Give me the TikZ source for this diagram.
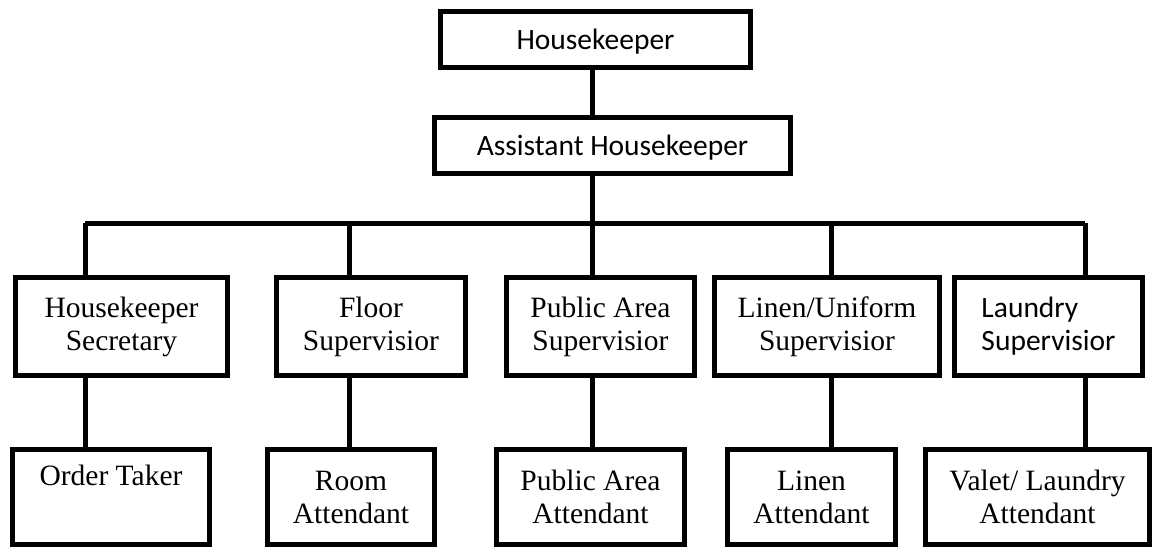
\documentclass[tikz,border=0pt]{standalone}
\usepackage{fontspec}
\setmainfont{Liberation Serif}
\newfontfamily\calibri{Carlito}
\usepackage{tikz}
\usetikzlibrary{positioning}

\begin{document}
\begin{tikzpicture}[x=1pt, y=-1pt]
	\tikzstyle{post} = [rectangle, draw=black, line width=5pt, inner sep=2pt,
	align=center, font=\fontsize{29.5}{33}\selectfont]
	\tikzstyle{head} = [post, minimum height=56pt, text depth=0pt,
	font=\calibri\fontsize{29.5}{33}\selectfont]
	\tikzstyle{sup} = [post, minimum height=98pt]
	\tikzstyle{att} = [post, minimum height=95pt]
	\tikzstyle{link} = [line width=5pt]
	\useasboundingbox (0,0) rectangle (1156,550);
	\node (housekeeper) [head, minimum width=310pt] at (595.5,39.5) {Housekeeper};
	\node (assistant) [head, minimum width=356pt] at (612.5,145.5) {Assistant Housekeeper};
	\node (secretary) [sup, minimum width=212pt] at (121.5,326.5) {Housekeeper\\Secretary};
	\node (floorSup) [sup, minimum width=189pt] at (371,326.5) {Floor\\Supervisior};
	\node (publicSup) [sup, minimum width=188pt] at (600.5,326.5) {Public Area\\Supervisior};
	\node (linenSup) [sup, minimum width=225pt] at (827,326.5) {Linen/Uniform\\Supervisior};
	\node (laundrySup) [sup, minimum width=188pt, align=left,
	font=\calibri\fontsize{29.5}{33}\selectfont] at (1048.5,326.5) {Laundry\\Supervisior};
	\node (orderTaker) [att, minimum width=197pt] at (111,497) {Order Taker\\\strut};
	\node (roomAtt) [att, minimum width=167pt] at (351,497) {Room\\Attendant};
	\node (publicAtt) [att, minimum width=188pt] at (590.5,497) {Public Area\\Attendant};
	\node (linenAtt) [att, minimum width=168pt] at (811.5,497) {Linen\\Attendant};
	\node (valetAtt) [att, minimum width=224pt] at (1037.5,497) {Valet/ Laundry\\Attendant};
	% bus and drop points
	\coordinate (bus) at (592,223);
	\coordinate (drop1) at (85,223);
	\coordinate (drop2) at (349,223);
	\coordinate (drop3) at (592,223);
	\coordinate (drop4) at (831,223);
	\coordinate (drop5) at (1085,223);
	\draw [link] (housekeeper.south -| bus) -- (assistant.north -| bus);
	\draw [link] (assistant.south -| bus) -- (bus);
	\draw [link] (drop1) -- (drop5);
	\draw [link] (drop1) -- (secretary.north -| drop1);
	\draw [link] (drop2) -- (floorSup.north -| drop2);
	\draw [link] (drop3) -- (publicSup.north -| drop3);
	\draw [link] (drop4) -- (linenSup.north -| drop4);
	\draw [link] (drop5) -- (laundrySup.north -| drop5);
	\draw [link] (secretary.south -| drop1) -- (orderTaker.north -| drop1);
	\draw [link] (floorSup.south -| drop2) -- (roomAtt.north -| drop2);
	\draw [link] (publicSup.south -| drop3) -- (publicAtt.north -| drop3);
	\draw [link] (linenSup.south -| drop4) -- (linenAtt.north -| drop4);
	\draw [link] (laundrySup.south -| drop5) -- (valetAtt.north -| drop5);
\end{tikzpicture}
\end{document}
